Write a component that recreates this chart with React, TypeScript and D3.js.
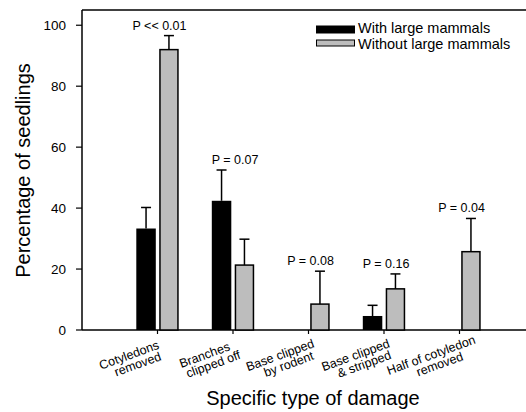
import * as d3 from "d3";

const categories = [
  ["Cotyledons", "removed"],
  ["Branches", "clipped off"],
  ["Base clipped", "by rodent"],
  ["Base clipped", "& stripped"],
  ["Half of cotyledon", "removed"],
];
const withMammals = [33.3, 42.4, 0, 4.6, 0];
const withErr = [6.9, 10.1, 0, 3.5, 0];
const withoutMammals = [92.0, 21.3, 8.5, 13.5, 25.7];
const withoutErr = [4.6, 8.5, 10.8, 4.9, 10.9];
const pLabels = ["P << 0.01", "P = 0.07", "P = 0.08", "P = 0.16", "P = 0.04"];
const yTicks = [0, 20, 40, 60, 80, 100];

const W = 526;
const H = 412;
const FONT = "'Liberation Sans', Arial, sans-serif";
const GRAY = "#bdbdbd";
const BAR_W = 19.5;
const BAR_GAP = 1.7;
const CAP = 10;

export default function App() {
  const x = d3.scaleLinear().domain([0, 6]).range([82, 535]);
  const y = d3.scaleLinear().domain([0, 105]).range([330, 10]);
  const y0 = y(0);

  const errBar = (cx: number, v: number, e: number, key: string) =>
    e > 0 ? (
      <g key={key} stroke="#000" strokeWidth={1.5}>
        <line x1={cx} x2={cx} y1={y(v)} y2={y(v + e)} />
        <line x1={cx - CAP / 2} x2={cx + CAP / 2} y1={y(v + e)} y2={y(v + e)} />
      </g>
    ) : null;

  return (
    <svg
      width={W}
      height={H}
      style={{ position: "absolute", left: 0, top: 0, background: "#fff" }}
      fontFamily={FONT}
    >
      {/* frame */}
      <g stroke="#000" strokeWidth={1.5} fill="none">
        <line x1={82} x2={W} y1={y(105)} y2={y(105)} />
        <line x1={82} x2={82} y1={y(105)} y2={y0} />
        <line x1={82} x2={W} y1={y0} y2={y0} />
      </g>

      {/* y ticks */}
      {yTicks.map((t) => (
        <g key={t}>
          <line x1={76} x2={82} y1={y(t)} y2={y(t)} stroke="#000" strokeWidth={1.2} />
          <text x={66} y={y(t) + 4.8} textAnchor="end" fontSize={13.5}>
            {t}
          </text>
        </g>
      ))}

      {/* bars */}
      {categories.map((c, i) => {
        const cx = x(i + 1);
        const bx = cx - BAR_GAP - BAR_W / 2;
        const gx = cx + BAR_GAP + BAR_W / 2;
        const top = Math.max(
          withMammals[i] + withErr[i],
          withoutMammals[i] + withoutErr[i]
        );
        return (
          <g key={i}>
            {withMammals[i] > 0 && (
              <rect
                x={bx - BAR_W / 2}
                y={y(withMammals[i])}
                width={BAR_W}
                height={y0 - y(withMammals[i])}
                fill="#000"
              />
            )}
            {errBar(bx, withMammals[i], withErr[i], "a")}
            <rect
              x={gx - BAR_W / 2 + 0.75}
              y={y(withoutMammals[i])}
              width={BAR_W - 1.5}
              height={y0 - y(withoutMammals[i])}
              fill={GRAY}
              stroke="#000"
              strokeWidth={1.5}
            />
            {errBar(gx, withoutMammals[i], withoutErr[i], "b")}
            <text x={cx + 2} y={y(top) - 6} textAnchor="middle" fontSize={12.5}>
              {pLabels[i]}
            </text>
            <line x1={cx} x2={cx} y1={y0} y2={y0 + 4} stroke="#000" strokeWidth={1.2} />
            <g transform={`translate(${cx - 27},${359}) rotate(-20)`} fontSize={12.5}>
              <text x={0} y={0} textAnchor="middle">
                {c[0]}
              </text>
              <text x={5} y={11.5} textAnchor="middle">
                {c[1]}
              </text>
            </g>
          </g>
        );
      })}

      {/* legend */}
      <rect x={316} y={25.5} width={39} height={8} fill="#000" />
      <text x={358} y={32.5} fontSize={14.5}>
        With large mammals
      </text>
      <rect x={316.5} y={40} width={38} height={6} fill={GRAY} stroke="#000" strokeWidth={1} />
      <text x={358} y={48.5} fontSize={14.5}>
        Without large mammals
      </text>

      {/* axis titles */}
      <text
        transform={`translate(29.5,170.5) rotate(-90)`}
        textAnchor="middle"
        fontSize={20}
      >
        Percentage of seedlings
      </text>
      <text x={313} y={404.5} textAnchor="middle" fontSize={20}>
        Specific type of damage
      </text>
    </svg>
  );
}
